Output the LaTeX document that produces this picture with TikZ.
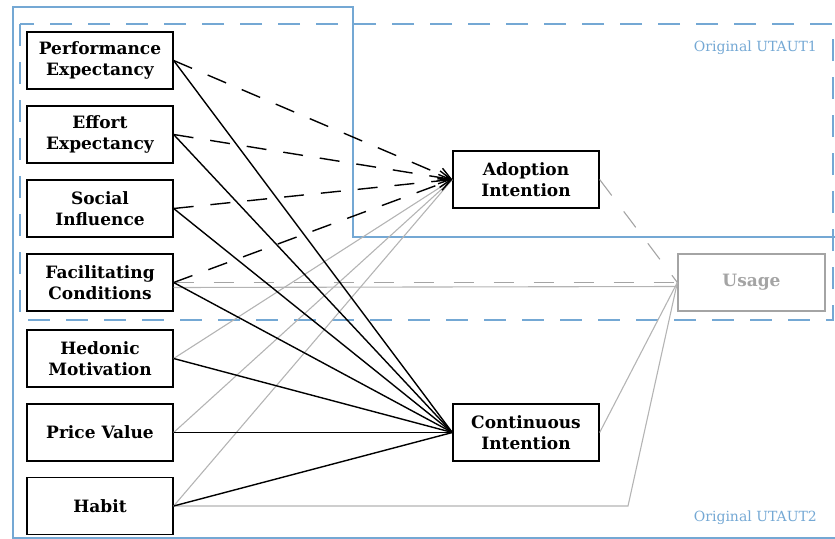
\documentclass[tikz,border=0pt]{standalone}
\usepackage{fontspec}
\setmainfont{DejaVu Serif}
\usetikzlibrary{arrows.meta}
\definecolor{frameblue}{HTML}{74A8D4}
\definecolor{lgray}{HTML}{B4B4B4}
\definecolor{mgray}{HTML}{A4A4A4}
\begin{document}
\begin{tikzpicture}[x=1pt,y=-1pt,
  box/.style={draw=black, line width=1.3pt, fill=white, minimum width=146pt, minimum height=57pt,
    align=center, font=\fontsize{17}{21}\selectfont\bfseries, inner sep=0pt},
  graybox/.style={box, draw=mgray, text=mgray},
  solidframe/.style={draw=frameblue, line width=2pt},
  dashframe/.style={draw=frameblue, line width=2pt, dash pattern=on 22pt off 16pt},
  blackline/.style={draw=black, line width=1.4pt},
  dashedarrow/.style={draw=black, line width=1.4pt, dash pattern=on 20pt off 17pt,
    -{Straight Barb[length=12pt,width=13pt,line width=1.4pt]}},
  grayline/.style={draw=lgray, line width=1.1pt},
  graydash/.style={draw=mgray, line width=1.1pt, dash pattern=on 20pt off 20pt},
  framelabel/.style={text=frameblue, font=\fontsize{14}{16}\selectfont, anchor=east, inner sep=0pt}
]
\useasboundingbox (0,0) rectangle (835,538);
\clip (0,0) rectangle (835,538);

% frames
\draw[solidframe] (845,537.5) -- (13,537.5) -- (13,7) -- (353,7) -- (353,237) -- (845,237);
\draw[dashframe] (20,24) rectangle (833,320);
\node[framelabel] (l1) at (817,48) {Original UTAUT1};
\node[framelabel] (l2) at (817,518) {Original UTAUT2};

% nodes
\node[box] (pe) at (100,60.5) {Performance\\Expectancy};
\node[box] (ee) at (100,134.5) {Effort\\Expectancy};
\node[box] (si) at (100,208.5) {Social\\Influence};
\node[box] (fc) at (100,282.5) {Facilitating\\Conditions};
\node[box] (hm) at (100,358.5) {Hedonic\\Motivation};
\node[box] (pv) at (100,432.5) {Price Value};
\node[box] (hab) at (100,506) {Habit};
\node[box] (ai) at (526,179.5) {Adoption\\Intention};
\node[box] (ci) at (526,432.5) {Continuous\\Intention};
\node[graybox, minimum width=147pt] (us) at (751.5,282.5) {Usage};

% gray connectors
\draw[grayline] (hm.east) -- (ai.west);
\draw[grayline] (pv.east) -- (ai.west);
\draw[grayline] (hab.east) -- (ai.west);
\draw[graydash] (fc.east) -- (us.west);
\draw[grayline] ([yshift=-5pt]fc.east) -- ([yshift=-4pt]us.west);
\draw[graydash] (ai.east) -- (us.west);
\draw[grayline] (ci.east) -- (us.west);
\coordinate (hk) at (628,506);
\draw[grayline] (hab.east) -- (hk) -- (us.west);

% black connectors
\foreach \n in {pe,ee,si,fc,hm,pv,hab}{
  \draw[blackline] (\n.east) -- (ci.west);
}
\foreach \n in {pe,ee,si,fc}{
  \draw[dashedarrow] (\n.east) -- (ai.west);
}
\end{tikzpicture}
\end{document}
